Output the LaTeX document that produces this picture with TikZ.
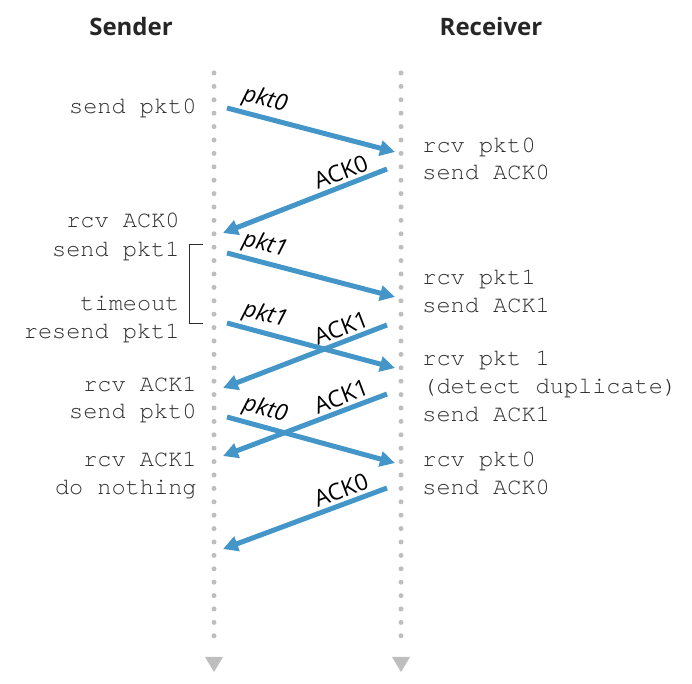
\documentclass[tikz,border=0pt]{standalone}
\usepackage{fontspec}
\usepackage{xcolor}
\usepackage{tikz}
\usetikzlibrary{arrows.meta}
\newfontfamily\monofont{texgyrecursor-regular.otf}
\newfontfamily\labelfont{Open Sans}
\definecolor{msgblue}{RGB}{68,150,200}
\definecolor{dotgray}{RGB}{190,190,190}
\definecolor{textgray}{RGB}{45,45,45}

\begin{document}
\begin{tikzpicture}[
    x=0.5pt, y=-0.5pt,
    timeline/.style={dotgray, line width=2.5pt, line cap=round, dash pattern=on 0pt off 6.7pt},
    msg/.style={msgblue, line width=2.5pt, -{Triangle[length=7.5pt, width=7.5pt]}},
    pktlabel/.style={sloped, above, pos=0.2, font=\labelfont\itshape\fontsize{11.5}{13}\selectfont, text=black, inner sep=1.5pt},
    acklabel/.style={sloped, above, pos=0.25, font=\labelfont\fontsize{11.5}{13}\selectfont, text=black, inner sep=1.5pt},
    sndtext/.style={anchor=base east, font=\monofont\fontsize{11.8}{14}\selectfont, text=textgray, inner sep=0pt},
    rcvtext/.style={anchor=base west, font=\monofont\fontsize{11.8}{14}\selectfont, text=textgray, inner sep=0pt},
    head/.style={font=\labelfont\bfseries\fontsize{12}{14}\selectfont, text=black!85},
]
    \useasboundingbox (0,0) rectangle (692,684);

    % headers
    \node[head] (sender) at (131,27) {Sender};
    \node[head] (receiver) at (491,27) {Receiver};

    % timelines
    \coordinate (stop) at (214,73);
    \coordinate (sbot) at (214,649);
    \coordinate (rtop) at (401,73);
    \coordinate (rbot) at (401,649);
    \draw[timeline] (stop) -- (sbot);
    \draw[timeline] (rtop) -- (rbot);
    \fill[dotgray] (205,657) -- (223,657) -- (214,672) -- cycle;
    \fill[dotgray] (392,657) -- (410,657) -- (401,672) -- cycle;

    % sender events
    \node[sndtext] (sa) at (197,114) {send pkt0};
    \node[sndtext] (sb) at (180,228) {rcv ACK0};
    \node[sndtext] (sc) at (180,257) {send pkt1};
    \node[sndtext] (sd) at (180,311) {timeout};
    \node[sndtext] (se) at (180,339) {resend pkt1};
    \node[sndtext] (sf) at (197,392) {rcv ACK1};
    \node[sndtext] (sg) at (197,419) {send pkt0};
    \node[sndtext] (sh) at (197,467) {rcv ACK1};
    \node[sndtext] (si) at (197,495) {do nothing};

    % receiver events
    \node[rcvtext] (ra) at (422,153) {rcv pkt0};
    \node[rcvtext] (rb) at (422,180) {send ACK0};
    \node[rcvtext] (rc) at (422,285) {rcv pkt1};
    \node[rcvtext] (rd) at (422,313) {send ACK1};
    \node[rcvtext] (re) at (422,366) {rcv pkt 1};
    \node[rcvtext] (rf) at (422,394) {(detect duplicate)};
    \node[rcvtext] (rg) at (422,422) {send ACK1};
    \node[rcvtext] (rh) at (422,467) {rcv pkt0};
    \node[rcvtext] (ri) at (422,495) {send ACK0};

    % timeout bracket
    \coordinate (ttop) at (203,245);
    \coordinate (tbot) at (203,324);
    \draw[textgray, line width=0.5pt] (ttop) -- ++(-14,0) |- (tbot);

    % message end points
    \coordinate (p1s) at (227,108); \coordinate (p1r) at (395,152);
    \coordinate (a1r) at (387,169); \coordinate (a1s) at (223,233);
    \coordinate (p2s) at (227,253); \coordinate (p2r) at (395,297);
    \coordinate (p3s) at (227,323); \coordinate (p3r) at (395,368);
    \coordinate (a2r) at (387,325); \coordinate (a2s) at (223,388);
    \coordinate (p4s) at (227,417); \coordinate (p4r) at (395,463);
    \coordinate (a3r) at (387,394); \coordinate (a3s) at (223,456);
    \coordinate (a4r) at (387,488); \coordinate (a4s) at (223,549);

    % messages
    \draw[msg] (p1s) -- node[pktlabel] {pkt0} (p1r);
    \draw[msg] (a1r) -- node[acklabel] {ACK0} (a1s);
    \draw[msg] (p2s) -- node[pktlabel] {pkt1} (p2r);
    \draw[msg] (p3s) -- node[pktlabel] {pkt1} (p3r);
    \draw[msg] (a2r) -- node[acklabel] {ACK1} (a2s);
    \draw[msg] (p4s) -- node[pktlabel] {pkt0} (p4r);
    \draw[msg] (a3r) -- node[acklabel] {ACK1} (a3s);
    \draw[msg] (a4r) -- node[acklabel] {ACK0} (a4s);
\end{tikzpicture}
\end{document}
